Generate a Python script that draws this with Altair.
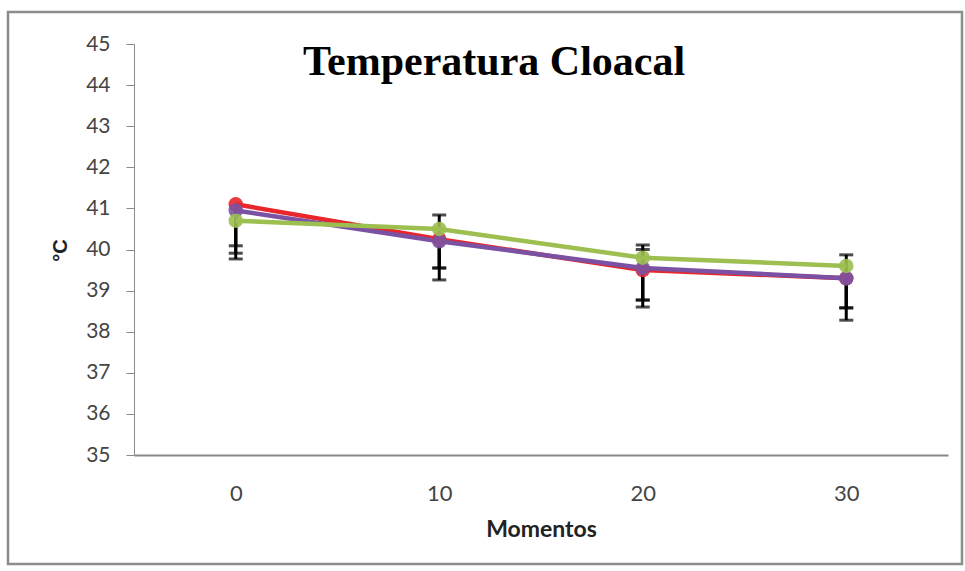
import altair as alt
import pandas as pd

title_text = "Temperatura Cloacal"
momentos = [0, 10, 20, 30]
series = ["Serie 1", "Serie 2", "Serie 3"]
colors = ["#E8262C", "#7B52A3", "#9CBF50"]

red_mean = [41.1, 40.25, 39.5, 39.3]
red_low = [39.77, 39.55, 38.77, 38.58]
red_high = [41.1, 40.25, 39.5, 39.3]

purple_mean = [40.95, 40.2, 39.55, 39.3]
purple_low = [39.91, 39.26, 38.6, 38.28]
purple_high = [40.95, 40.2, 40.0, 39.3]

green_mean = [40.7, 40.5, 39.8, 39.6]
green_low = [40.09, 39.55, 38.77, 38.58]
green_high = [40.7, 40.84, 40.11, 39.87]

rows = []
for name, m, lo, hi in [
    ("Serie 1", red_mean, red_low, red_high),
    ("Serie 2", purple_mean, purple_low, purple_high),
    ("Serie 3", green_mean, green_low, green_high),
]:
    for i, mo in enumerate(momentos):
        rows.append({"serie": name, "momento": mo, "temp": m[i], "low": lo[i], "high": hi[i]})
df = pd.DataFrame(rows)

font = "Lato"
x_scale = alt.Scale(domain=[-5, 35], nice=False, zero=False)
x = alt.X("momento:Q", scale=x_scale, title="Momentos",
          axis=alt.Axis(values=momentos, ticks=False, labelPadding=28, labelFontSize=22,
                        labelColor="#444444", labelFont=font, titleFont=font,
                        titleFontSize=23, titleFontWeight="bold", titleColor="#222222",
                        titlePadding=14, domainColor="#8a8a8a", domainWidth=2, grid=False,
                        labelFlush=False))
y_scale = alt.Scale(domain=[35, 45], nice=False, zero=False)
y_axis = alt.Axis(values=list(range(35, 46)), title="°C", grid=False, labelOverlap=False,
                  labelFontSize=21, labelColor="#444444", labelFont=font, labelPadding=16,
                  tickSize=8, tickColor="#8a8a8a", domainColor="#8a8a8a", labelFlush=False,
                  titleFont="Liberation Sans", titleFontSize=20, titleFontWeight="bold",
                  titleColor="#222222", titleX=-64, titleY=206, titleAngle=-90)
color = alt.Color("serie:N", scale=alt.Scale(domain=series, range=colors), legend=None)

base = alt.Chart(df)
single = base.transform_filter(alt.datum.serie == "Serie 1").transform_filter(alt.datum.momento == 0)

frame = single.mark_rect(fill=None, stroke="#8c8c8c", strokeWidth=2.5).encode(
    x=alt.value(-126), x2=alt.value(828), y=alt.value(-32), y2=alt.value(520))

title = single.mark_text(text=title_text, font="Liberation Serif", fontSize=42,
                         fontWeight="bold", color="black", align="center",
                         baseline="alphabetic").encode(
    x=alt.value(360), y=alt.value(31))

stems = base.mark_rule(color="black", strokeWidth=3).encode(
    x=x, y=alt.Y("low:Q", scale=y_scale, axis=y_axis), y2="high:Q")
caps_low = base.mark_tick(color="black", thickness=3, size=14, orient="horizontal").encode(
    x=x, y=alt.Y("low:Q", scale=y_scale))
caps_high = base.mark_tick(color="black", thickness=3, size=14, orient="horizontal").encode(
    x=x, y=alt.Y("high:Q", scale=y_scale)
).transform_filter(alt.datum.high > alt.datum.temp)

lines = base.mark_line(strokeWidth=4.5).encode(
    x=x, y=alt.Y("temp:Q", scale=y_scale), color=color, detail="serie:N")
points = base.mark_circle(size=210, opacity=0.9).encode(
    x=x, y=alt.Y("temp:Q", scale=y_scale), color=color)

chart = alt.layer(frame, title, stems, caps_low, caps_high, lines, points).properties(
    width=814, height=411,
    padding={"left": 134, "top": 44, "right": 17, "bottom": 116},
    autosize=alt.AutoSizeParams(type="none"),
    background="white",
).configure_view(stroke=None)

chart.save("out.html", embed_options={"renderer": "svg", "actions": False})
